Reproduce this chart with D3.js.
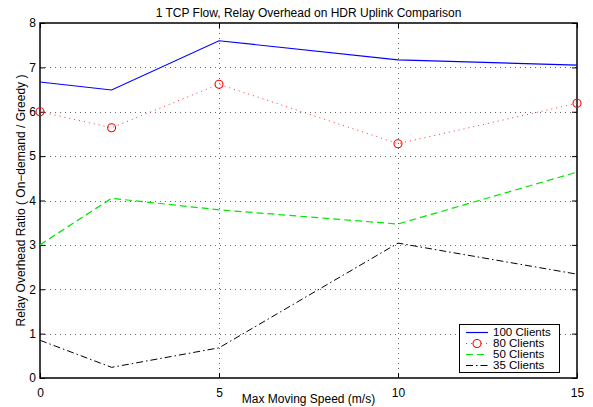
<!DOCTYPE html>
<html><head><meta charset="utf-8">
<script src="https://cdn.jsdelivr.net/npm/d3@7"></script>
<style>
html,body{margin:0;padding:0;background:#fff;}
svg{display:block;}
text{font-family:"Liberation Sans",Arial,Helvetica,sans-serif;fill:#000;}
</style></head>
<body>
<svg id="chart" width="593" height="407"></svg>
<script>
const speeds = [0, 2, 5, 10, 15];
const clients100 = [6.67, 6.49, 7.60, 7.17, 7.05];
const clients80 = [6.00, 5.64, 6.62, 5.28, 6.19];
const clients50 = [3.00, 4.05, 3.79, 3.47, 4.64];
const clients35 = [0.85, 0.24, 0.68, 3.04, 2.34];
const seriesNames = ["100 Clients", "80 Clients", "50 Clients", "35 Clients"];
const xTicks = [0, 5, 10, 15];
const yTicks = [0, 1, 2, 3, 4, 5, 6, 7, 8];
const titleText = "1 TCP Flow, Relay Overhead on HDR Uplink Comparison";
const xLabelText = "Max Moving Speed (m/s)";
const yLabelText = "Relay Overhead Ratio ( On\u2212demand / Greedy )";

const L = 40, R = 577, T = 23, B = 378;
const svg = d3.select("#chart");
const x = d3.scaleLinear().domain([0, 15]).range([L, R]);
const y = d3.scaleLinear().domain([0, 8]).range([B, T]);

// grid
const grid = svg.append("g");
grid.selectAll("line.gx").data(xTicks.filter(d => d > 0 && d < 15)).join("line")
  .attr("x1", d => Math.round(x(d)) + 0.5).attr("x2", d => Math.round(x(d)) + 0.5)
  .attr("y1", T).attr("y2", B)
  .attr("stroke", "#666").attr("stroke-width", 1).attr("stroke-dasharray", "1,4");
grid.selectAll("line.gy").data(yTicks.filter(d => d > 0 && d < 8)).join("line")
  .attr("x1", L).attr("x2", R)
  .attr("y1", d => Math.round(y(d)) + 0.5).attr("y2", d => Math.round(y(d)) + 0.5)
  .attr("stroke", "#666").attr("stroke-width", 1).attr("stroke-dasharray", "1,4");

// axes with inward ticks
const tickLen = 5;
const xAxisB = d3.axisBottom(x).tickValues(xTicks).tickSizeInner(-tickLen).tickSizeOuter(0).tickPadding(10);
const yAxisL = d3.axisLeft(y).tickValues(yTicks).tickSizeInner(-tickLen).tickSizeOuter(0).tickPadding(4);
const xAxisT = d3.axisTop(x).tickValues(xTicks).tickSizeInner(-tickLen).tickSizeOuter(0).tickFormat("");
const yAxisR = d3.axisRight(y).tickValues(yTicks).tickSizeInner(-tickLen).tickSizeOuter(0).tickFormat("");

function style(g) {
  g.select(".domain").remove();
  g.selectAll(".tick line").attr("stroke", "#000");
  g.selectAll(".tick text").attr("font-size", 12).attr("font-family", "Liberation Sans, Arial, sans-serif");
}
svg.append("g").attr("transform", `translate(0,${B})`).call(xAxisB).call(style);
svg.append("g").attr("transform", `translate(${L},0)`).call(yAxisL).call(style);
svg.append("g").attr("transform", `translate(0,${T})`).call(xAxisT).call(style);
svg.append("g").attr("transform", `translate(${R},0)`).call(yAxisR).call(style);

// box
svg.append("rect").attr("x", L).attr("y", T).attr("width", R - L).attr("height", B - T)
  .attr("fill", "none").attr("stroke", "#000").attr("stroke-width", 1.5);

// series
const styles = [
  {color: "#0000ff", dash: null, width: 1.2, marker: false},
  {color: "#ff3030", dash: "1,4", width: 1, marker: true},
  {color: "#00e600", dash: "7,4", width: 1.2, marker: false},
  {color: "#000000", dash: "7,3,1.5,3", width: 1, marker: false}
];
const allSeries = [clients100, clients80, clients50, clients35];
const line = d3.line().x((d, i) => x(speeds[i])).y(d => y(d));
const plot = svg.append("g");
allSeries.forEach((vals, k) => {
  const s = styles[k];
  plot.append("path").datum(vals).attr("d", line)
    .attr("fill", "none").attr("stroke", s.color).attr("stroke-width", s.width)
    .attr("stroke-dasharray", s.dash);
  if (s.marker) {
    plot.selectAll(null).data(vals).join("circle")
      .attr("cx", (d, i) => x(speeds[i])).attr("cy", d => y(d)).attr("r", 4)
      .attr("fill", "none").attr("stroke", "#ff0000").attr("stroke-width", 1.1);
  }
});

// title & labels
svg.append("text").attr("x", (L + R) / 2).attr("y", 17).attr("text-anchor", "middle")
  .attr("font-size", 12).text(titleText);
svg.append("text").attr("x", (L + R) / 2).attr("y", 403).attr("text-anchor", "middle")
  .attr("font-size", 12).text(xLabelText);
svg.append("text").attr("transform", `translate(25,${(T + B) / 2}) rotate(-90)`)
  .attr("text-anchor", "middle").attr("font-size", 12).text(yLabelText);

// legend
const lg = svg.append("g");
lg.append("rect").attr("x", 459.5).attr("y", 324.5).attr("width", 100).attr("height", 48)
  .attr("fill", "#fff").attr("stroke", "#000").attr("stroke-width", 1);
seriesNames.forEach((name, k) => {
  const s = styles[k];
  const cy = 332.5 + k * 11;
  lg.append("line").attr("x1", 466).attr("x2", 488).attr("y1", cy).attr("y2", cy)
    .attr("stroke", s.color).attr("stroke-width", s.width).attr("stroke-dasharray", s.dash);
  if (s.marker) {
    lg.append("circle").attr("cx", 477).attr("cy", cy).attr("r", 4)
      .attr("fill", "#fff").attr("stroke", "#ff0000").attr("stroke-width", 1.1);
  }
  lg.append("text").attr("transform", `translate(493,${cy + 3.6}) scale(1.1,1)`)
    .attr("font-size", 10.5).text(name);
});
</script>
</body></html>
